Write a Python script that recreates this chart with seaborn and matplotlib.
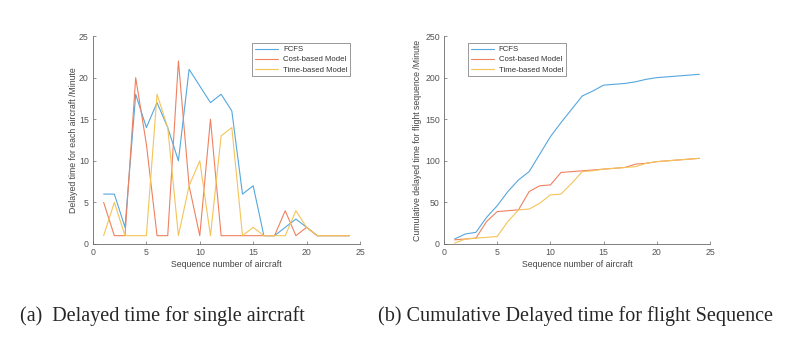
import numpy as np
import pandas as pd
import seaborn as sns
import matplotlib.pyplot as plt

seq = list(range(1, 25))
models = ["FCFS", "Cost-based Model", "Time-based Model"]

# delay per aircraft (minutes)
delay_fcfs = [6, 6, 2, 18, 14, 17, 14, 10, 21, 19, 17, 18, 16, 6, 7, 1, 1, 2, 3, 2, 1, 1, 1, 1]
delay_cost = [5, 1, 1, 20, 12, 1, 1, 22, 7, 1, 15, 1, 1, 1, 1, 1, 1, 4, 1, 2, 1, 1, 1, 1]
delay_time = [1, 5, 1, 1, 1, 18, 14, 1, 7, 10, 1, 13, 14, 1, 2, 1, 1, 1, 4, 2, 1, 1, 1, 1]

# cumulative delay (minutes)
cum_fcfs = [6, 12, 14, 32, 46, 63, 77, 87, 108, 129, 146, 162, 178, 184, 191, 192, 193, 195, 198, 200, 201, 202, 203, 204]
cum_cost = [5, 6, 7, 27, 39, 40, 41, 63, 70, 71, 86, 87, 88, 89, 90, 91, 92, 96, 97, 99, 100, 101, 102, 103]
cum_time = [1, 6, 7, 8, 9, 27, 41, 42, 49, 59, 60, 73, 87, 88, 90, 91, 92, 93, 97, 99, 100, 101, 102, 103]

colors = ["#55a7de", "#ef8160", "#f4c458"]
grey = "#6a6a6a"


def make_df(series):
    frames = []
    for name, vals in zip(models, series):
        frames.append(pd.DataFrame({"seq": seq, "val": vals, "model": name}))
    return pd.concat(frames, ignore_index=True)


sns.set_style("ticks")
plt.rcParams['font.family'] = ['Liberation Sans', 'DejaVu Sans']
plt.rcParams.update({
    "xtick.direction": "in", "ytick.direction": "in",
    "xtick.major.size": 2.5, "ytick.major.size": 2.5,
    "xtick.major.width": 0.5, "ytick.major.width": 0.5,
    "xtick.color": grey, "ytick.color": grey,
    "xtick.labelcolor": "#555555", "ytick.labelcolor": "#555555",
    "axes.edgecolor": grey, "axes.linewidth": 0.6,
    "axes.labelcolor": "#444444",
    "xtick.labelsize": 6.3, "ytick.labelsize": 6.3,
})

fig = plt.figure(figsize=(7.98, 3.37), dpi=100)
ax1 = fig.add_axes([0.1165, 0.276, 0.3346, 0.617])
ax2 = fig.add_axes([0.5564, 0.276, 0.3333, 0.617])

sns.lineplot(data=make_df([delay_fcfs, delay_cost, delay_time]), x="seq", y="val",
             hue="model", palette=colors, linewidth=0.8, ax=ax1)
sns.lineplot(data=make_df([cum_fcfs, cum_cost, cum_time]), x="seq", y="val",
             hue="model", palette=colors, linewidth=0.8, ax=ax2)

ax1.set(xlim=(0, 25), ylim=(0, 25), xticks=range(0, 26, 5), yticks=range(0, 26, 5))
ax2.set(xlim=(0, 25), ylim=(0, 250), xticks=range(0, 26, 5), yticks=range(0, 251, 50))
ax1.set_ylabel("Delayed time for each aircraft /Minute", fontsize=6.3, labelpad=0.5)
ax2.set_ylabel("Cumulative delayed time for flight sequence /Minute", fontsize=6.3, labelpad=2.5)
for ax in (ax1, ax2):
    ax.set_xlabel("Sequence number of aircraft", fontsize=6.3, labelpad=2)
    sns.despine(ax=ax)
    ax.tick_params(pad=3)

leg_kw = dict(fontsize=5.6, frameon=True, fancybox=False, edgecolor=grey,
              handlelength=3.0, borderaxespad=0, labelspacing=0.35,
              borderpad=0.35, handletextpad=0.6)
l1 = ax1.legend(loc="upper right", bbox_to_anchor=(0.963, 0.966), **leg_kw)
l2 = ax2.legend(loc="upper left", bbox_to_anchor=(0.09, 0.966), **leg_kw)
for leg in (l1, l2):
    leg.get_frame().set_linewidth(0.6)
    for t in leg.get_texts():
        t.set_color("#333333")

fig.text(0.025, 0.062, "(a)  Delayed time for single aircraft", family="Liberation Serif",
         fontsize=14.5, va="center", ha="left")
fig.text(0.474, 0.062, "(b) Cumulative Delayed time for flight Sequence", family="Liberation Serif",
         fontsize=14.5, va="center", ha="left")

fig.savefig("out.png", dpi=100)
